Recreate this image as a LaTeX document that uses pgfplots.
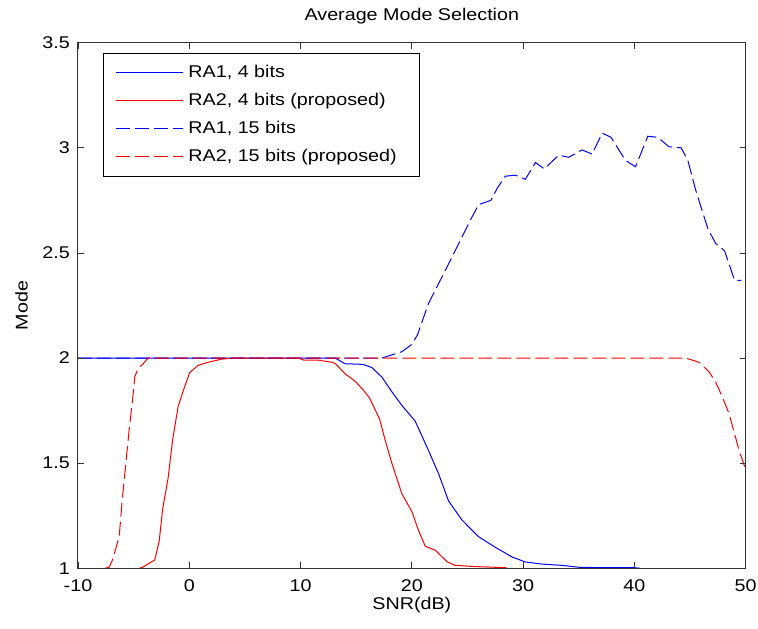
\documentclass[border=0pt]{standalone}
\usepackage{fontspec}
\setmainfont{Liberation Sans}[FakeStretch=1.16]
\usepackage{pgfplots}
\pgfplotsset{compat=1.18}

\begin{document}
\fontsize{17bp}{20bp}\selectfont
\begin{tikzpicture}
\begin{axis}[
    scale only axis,
    width=667.7bp, height=525.6bp,
    xmin=-10, xmax=50,
    ymin=1, ymax=3.5,
    xtick={-10,0,10,20,30,40,50},
    xticklabels={-10,0,10,20,30,40,50},
    ytick={1,1.5,2,2.5,3,3.5},
    yticklabels={1,1.5,2,2.5,3,3.5},
    tick align=inside,
    major tick length=6bp,
    tick style={black!80, line width=0.8bp},
    axis line style={black!80, line width=1bp},
    axis on top,
    xticklabel style={anchor=base, inner sep=0pt, yshift=-23bp},
    yticklabel style={anchor=east, inner sep=0pt, xshift=-8bp},
    title={Average Mode Selection},
    title style={at={(axis description cs:0.5,1.0316)}, anchor=base, inner sep=0pt},
    xlabel={SNR(dB)},
    xlabel style={at={(axis description cs:0.5,-0.078)}, anchor=base, inner sep=0pt},
    ylabel={Mode},
    ylabel style={at={(axis description cs:-0.0749,0.5)}, anchor=south, inner sep=0pt},
    legend image code/.code={\draw[#1] (0bp,0bp) -- (67bp,0bp);},
    legend style={
        at={(axis description cs:0.0374,0.981)}, anchor=north west,
        draw=black, line width=1bp, fill=white,
        inner xsep=12bp, inner ysep=11bp,
        row sep=11bp,
        nodes={inner sep=0pt, text height=13.5bp, text depth=3.5bp, anchor=west},
        /tikz/every odd column/.append style={column sep=5bp},
        font=\fontsize{17bp}{20bp}\selectfont
    },
    every axis plot/.append style={line width=1bp},
]
\addplot[draw=blue, solid] coordinates {
    (-10,2) (12.5,2) (13.1,2.0) (14.0,1.973) (15.6,1.97) (16.4,1.955)
    (17.3,1.91) (18.2,1.84) (19.1,1.775) (20.3,1.70) (21.5,1.56) (22.4,1.45)
    (23.3,1.32) (24.5,1.23) (26.0,1.15) (27.5,1.10) (29.0,1.054) (30.2,1.03)
    (31.7,1.02) (33.5,1.014) (35,1.005) (37,1.003) (40,1.003) (40.5,1)
};
\addlegendentry{RA1, 4 bits}
\addplot[draw=red, solid] coordinates {
    (-4.5,1) (-4.2,1.005) (-3.1,1.04) (-2.7,1.13) (-2.4,1.28) (-1.9,1.43)
    (-1.5,1.61) (-1.0,1.77) (-0.57,1.84) (0.03,1.93) (0.78,1.965) (1.7,1.98)
    (2.9,1.995) (4,2) (9.8,2) (10.3,1.99) (11.6,1.99) (12.8,1.98) (13.1,1.975)
    (14.0,1.925) (14.9,1.89) (15.6,1.85) (16.2,1.81) (17.1,1.71) (17.6,1.61)
    (18.2,1.50) (19.1,1.355) (20.0,1.27) (20.6,1.18) (21.2,1.105) (22.1,1.086)
    (23.2,1.03) (23.9,1.014) (25.7,1.008) (28.5,1.003)
};
\addlegendentry{RA2, 4 bits (proposed)}
\addplot[draw=blue, dash pattern=on 14bp off 5bp] coordinates {
    (-10,2) (17.3,2.0) (18.5,2.02) (19.1,2.03) (20.0,2.065) (20.5,2.11)
    (21.5,2.26) (22.7,2.385) (23.6,2.48) (24.5,2.575) (25.4,2.67) (26.0,2.73)
    (27.1,2.75) (27.7,2.81) (28.4,2.865) (29.3,2.87) (30.2,2.85) (31.1,2.93)
    (31.9,2.90) (33.2,2.965) (34.1,2.955) (35.3,2.99) (36.2,2.97) (37.1,3.07)
    (37.9,3.05) (39.2,2.94) (40.1,2.91) (41.2,3.055) (42.1,3.05) (43.1,3.005)
    (44.2,3.00) (44.8,2.94) (45.5,2.80) (46.6,2.615) (47.3,2.545) (48.1,2.51)
    (49.0,2.37) (49.6,2.37)
};
\addlegendentry{RA1, 15 bits}
\addplot[draw=red, dash pattern=on 14bp off 5bp] coordinates {
    (-7.6,1) (-7.2,1.005) (-6.9,1.04) (-6.3,1.15) (-6.0,1.34) (-5.7,1.50)
    (-5.4,1.66) (-5.1,1.80) (-4.9,1.91) (-4.6,1.95) (-4.2,1.97) (-3.7,2.0)
    (44.5,2.0) (44.8,1.997) (45.8,1.98) (46.7,1.935) (47.3,1.886) (47.9,1.815)
    (48.5,1.736) (49.0,1.64) (49.4,1.56) (50,1.47)
};
\addlegendentry{RA2, 15 bits (proposed)\hspace*{11bp}}
\end{axis}
\pgfresetboundingbox
\path[use as bounding box] (current axis.south west) ++(-78bp,-60bp) rectangle
    ([xshift=12.3bp,yshift=42.7bp]current axis.north east);
\end{tikzpicture}
\end{document}
